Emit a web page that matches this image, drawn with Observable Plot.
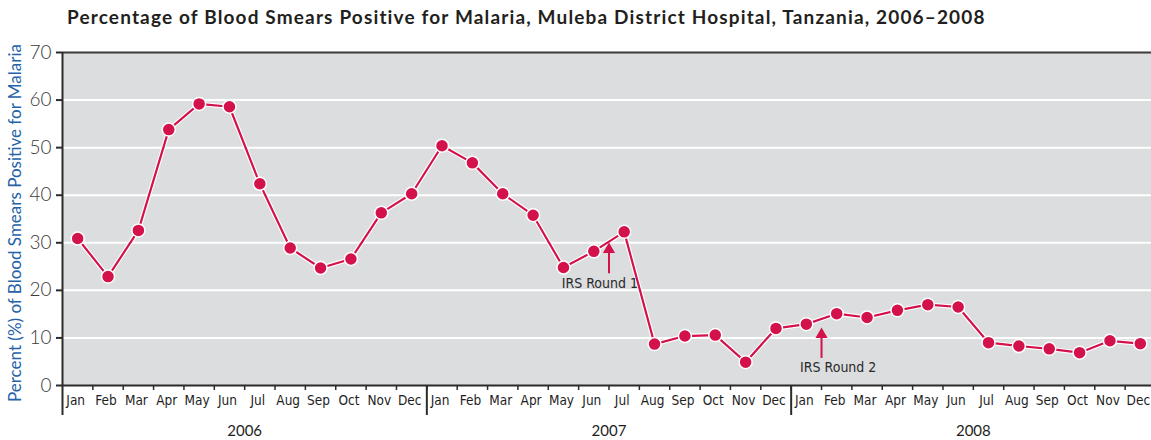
<!DOCTYPE html>
<html>
<head>
<meta charset="utf-8">
<script src="https://cdn.jsdelivr.net/npm/d3@7"></script>
<script src="https://cdn.jsdelivr.net/npm/@observablehq/plot@0.6"></script>
<style>
  html, body { margin: 0; padding: 0; background: #ffffff; }
  #wrap { position: relative; width: 1151px; height: 440px; overflow: hidden; }
  #title { position: absolute; left: 67px; top: 5px; font-family: Lato, "DejaVu Sans", sans-serif; font-weight: 700; font-size: 19px; letter-spacing: 1.15px; color: #231f20; white-space: nowrap; }
  #chart { position: absolute; left: 0; top: 40px; }
</style>
</head>
<body>
<div id="wrap">
  <div id="title">Percentage of Blood Smears Positive for Malaria, Muleba District Hospital, Tanzania, 2006–2008</div>
  <div id="chart"></div>
</div>
<script>
const years = ["2006", "2007", "2008"];
const months = ["Jan", "Feb", "Mar", "Apr", "May", "Jun", "Jul", "Aug", "Sep", "Oct", "Nov", "Dec"];
const values2006 = [30.9, 22.9, 32.6, 53.8, 59.2, 58.6, 42.4, 28.9, 24.7, 26.6, 36.3, 40.3];
const values2007 = [50.4, 46.8, 40.3, 35.8, 24.8, 28.2, 32.3, 8.7, 10.4, 10.6, 4.9, 12.0];
const values2008 = [12.9, 15.1, 14.3, 15.8, 17.0, 16.5, 9.0, 8.3, 7.7, 6.9, 9.4, 8.8];
const yTicks = [0, 10, 20, 30, 40, 50, 60, 70];
const yLabel = "Percent (%) of Blood Smears Positive for Malaria";
// annotations: x in month index units (0 = Jan 2006), y in percent
const annotations = [
  {label: "IRS Round 1", arrowX: 17.5, textX: 17.2, textY: 21.4, arrowFrom: 23.5, arrowTo: 28.6},
  {label: "IRS Round 2", arrowX: 24.5, textX: 25.05, textY: 3.7, arrowFrom: 5.7, arrowTo: 10.7}
];

const series = [values2006, values2007, values2008];
const data = series.flatMap((vals, yi) => vals.map((v, mi) => ({i: yi * 12 + mi, year: years[yi], month: months[mi], v})));

const red = "#d3124b";
const narrow = "'Liberation Sans Narrow', 'DejaVu Sans Condensed', 'Arial Narrow', sans-serif";
const dark = "#333333";

const n = data.length;
const monthBoundaries = d3.range(0.5, n - 1, 1);
const yearBoundaries = d3.range(-0.5, n, 12);
const yearCenters = years.map((y, k) => k * 12 + 5.5);

const chart = Plot.plot({
  width: 1151,
  height: 400,
  marginTop: 12,
  marginBottom: 55,
  marginLeft: 62,
  marginRight: 0,
  style: {color: dark, background: "transparent", overflow: "visible"},
  x: {domain: [-0.5, n - 0.5], range: [62, 1155]},
  y: {domain: [0, 70]},
  marks: [
    Plot.frame({fill: "#dcdddf", stroke: "none"}),
    Plot.ruleY(yTicks.filter(t => t > 0 && t < 70), {stroke: "#ffffff", strokeWidth: 2}),
    Plot.ruleY([70], {stroke: "#3b3b3b", strokeWidth: 2}),
    Plot.ruleY([0], {stroke: "#2b2b2b", strokeWidth: 2}),
    Plot.ruleX([-0.5], {stroke: "#2b2b2b", strokeWidth: 2}),
    Plot.axisY(yTicks, {tickSize: 6, tickPadding: 5, fontSize: 19, fontFamily: "Lato, sans-serif", fontWeight: 300, strokeWidth: 2, label: null, stroke: "#2b2b2b", fill: "#3a3a3a"}),
    Plot.axisX(monthBoundaries, {tickSize: 5, tickFormat: () => "", strokeWidth: 1.5, stroke: "#2b2b2b", label: null}),
    Plot.axisX(yearBoundaries, {tickSize: 30, tickFormat: () => "", strokeWidth: 2, stroke: "#2b2b2b", label: null}),
    Plot.axisX(data.map(d => d.i), {tickSize: 0, tickPadding: 10, dx: -2, tickFormat: i => data[i].month, fontSize: 13.5, fontFamily: narrow, fill: "#1e1e1e", label: null}),
    Plot.axisX(yearCenters, {tickSize: 0, tickPadding: 40, tickFormat: (x, k) => years[k], fontSize: 15, fontFamily: "Lato, sans-serif", fill: "#1e1e1e", label: null}),
    Plot.text([yLabel], {frameAnchor: "left", textAnchor: "middle", text: d => d, rotate: -90, dx: -47, dy: 4, fill: "#2563a9", fontSize: 17, fontFamily: "Lato, sans-serif"}),
    Plot.line(data, {x: "i", y: "v", stroke: "#ffffff", strokeWidth: 4.5}),
    Plot.line(data, {x: "i", y: "v", stroke: red, strokeWidth: 2.2}),
    Plot.dot(data, {x: "i", y: "v", r: 6.5, fill: red, stroke: "#ffffff", strokeWidth: 1.5}),
    Plot.ruleX(annotations, {x: "arrowX", y1: "arrowFrom", y2: "arrowTo", stroke: red, strokeWidth: 2}),
    Plot.dot(annotations, {x: "arrowX", y: "arrowTo", symbol: "triangle", r: 4.5, fill: red, stroke: "none"}),
    Plot.text(annotations, {x: "textX", y: "textY", text: "label", fontSize: 14, fontFamily: narrow, fill: "#2a2a2a"})
  ]
});
document.getElementById("chart").appendChild(chart);
</script>
</body>
</html>
